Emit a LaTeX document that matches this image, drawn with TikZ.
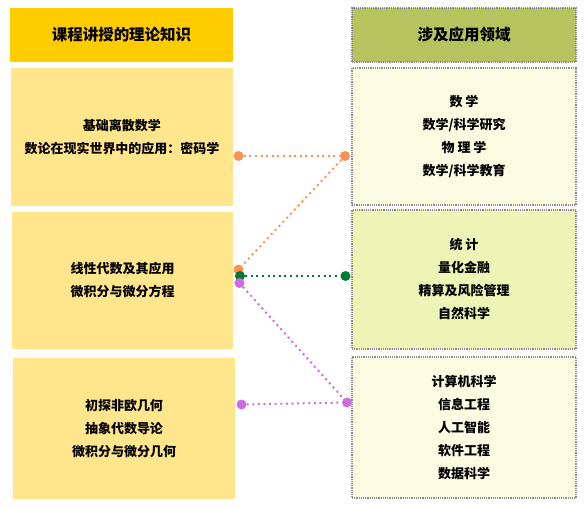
\documentclass[tikz,border=0pt]{standalone}
\usepackage{fontspec}
\newfontfamily\cjk{Noto Sans CJK SC}
\definecolor{hdrL}{HTML}{FFCC00}
\definecolor{boxL}{HTML}{FFE58C}
\definecolor{hdrR}{HTML}{B5C45E}
\definecolor{boxRa}{HTML}{FAFDE2}
\definecolor{boxRb}{HTML}{EDF5B6}
\definecolor{frameR}{HTML}{8C8C8C}
\definecolor{cOr}{HTML}{FF9150}
\definecolor{cGr}{HTML}{007A33}
\definecolor{cPu}{HTML}{CC6BE2}
\begin{document}
\begin{tikzpicture}[
 x=1pt,y=-1pt,
 txt/.style={font=\cjk\bfseries\fontsize{13pt}{23pt}\selectfont,align=center,inner sep=0pt},
 hdr/.style={font=\cjk\bfseries\fontsize{15.5pt}{18pt}\selectfont,align=center,inner sep=0pt},
 lbox/.style={txt,fill=boxL},
 rbox/.style={txt,draw=frameR,densely dotted,line width=1.2pt},
 pt/.style={circle,inner sep=0pt,minimum size=10pt},
 lnk/.style={line width=2pt,dash pattern=on 2pt off 3.6pt}]
\useasboundingbox (0,0) rectangle (584,508);
% headers
\node[hdr,fill=hdrL,minimum width=223pt,minimum height=54pt] (hL) at (121.5,35) {课程讲授的理论知识};
\node[hdr,draw=frameR,densely dotted,line width=1.2pt,fill=hdrR,minimum width=224pt,minimum height=54pt] (hR) at (464,35) {涉及应用领域};
% theory boxes
\node[lbox,minimum width=222pt,minimum height=138pt] (k1) at (122,137) {基础离散数学\\数论在现实世界中的应用：密码学};
\node[lbox,minimum width=221pt,minimum height=137pt] (k2) at (122.5,280.5) {线性代数及其应用\\微积分与微分方程};
\node[lbox,minimum width=222pt,minimum height=141pt] (k3) at (124,428.5) {初探非欧几何\\抽象代数导论\\微积分与微分几何};
% application boxes
\node[rbox,fill=boxRa,minimum width=224pt,minimum height=137pt] (a1) at (464,136.5) {数 学\\数学/科学研究\\物 理 学\\数学/科学教育};
\node[rbox,fill=boxRb,minimum width=224pt,minimum height=139pt] (a2) at (464,279.5) {统 计\\量化金融\\精算及风险管理\\自然科学};
\node[rbox,fill=boxRa,minimum width=224pt,minimum height=141pt] (a3) at (464,427.5) {计算机科学\\信息工程\\人工智能\\软件工程\\数据科学};
% links
\node[pt,fill=cOr] (o1) at (238.5,156) {};
\node[pt,fill=cOr] (o2) at (345,156) {};
\node[pt,fill=cOr] (o3) at (238.5,269.5) {};
\draw[lnk,cOr] (o1)--(o2);
\draw[lnk,cOr] (o2)--(o3);
\node[pt,fill=cGr] (g1) at (240,276) {};
\node[pt,fill=cGr] (g2) at (345.5,276) {};
\draw[lnk,cGr] (g1)--(g2);
\node[pt,fill=cPu] (p1) at (239.5,283) {};
\node[pt,fill=cPu] (p2) at (347,402.5) {};
\node[pt,fill=cPu] (p3) at (241.5,404.5) {};
\draw[lnk,cPu] (p1)--(p2);
\draw[lnk,cPu] (p3)--(p2);
\end{tikzpicture}
\end{document}
